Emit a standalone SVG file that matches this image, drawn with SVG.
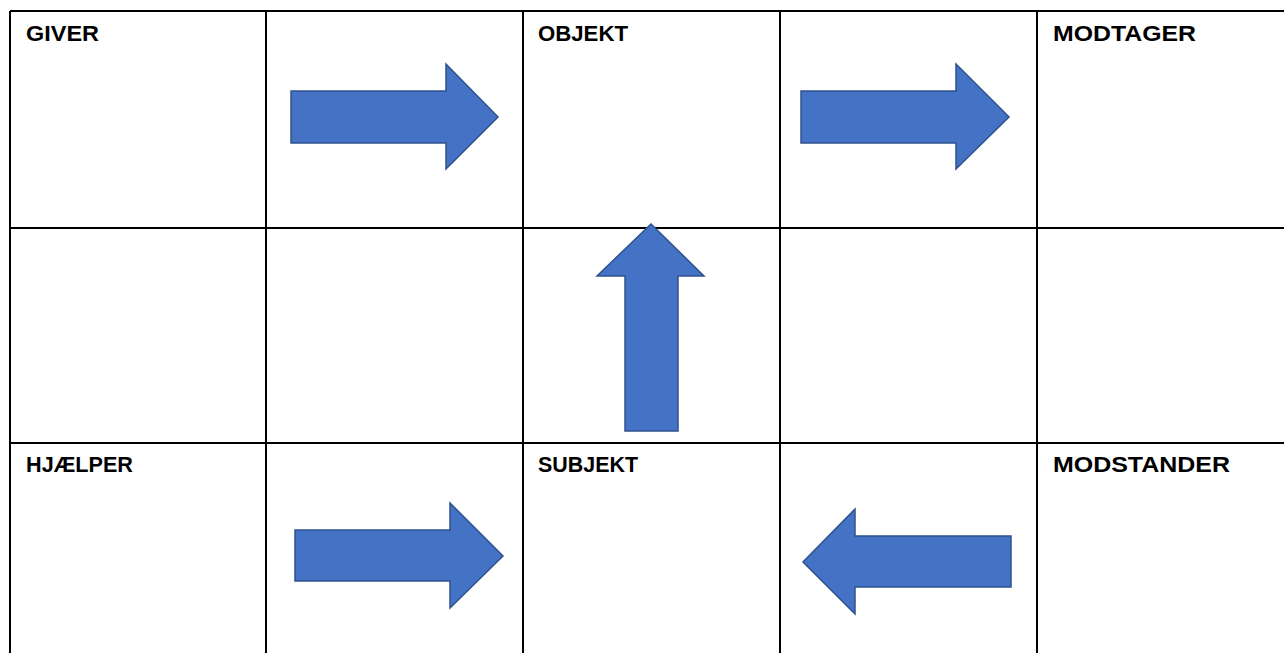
<svg xmlns="http://www.w3.org/2000/svg" width="1284" height="653" viewBox="0 0 1284 653">
<style>
.grid{stroke:#000;stroke-width:2;fill:none}
.lbl{font-family:"Liberation Sans",Arial,sans-serif;font-weight:bold;font-size:22px;fill:#000}
.arr{fill:#4472C4;stroke:#2F528F;stroke-width:1.5;stroke-linejoin:miter}
</style>
<rect width="1284" height="653" fill="#fff"/>
<g id="table" class="grid">
<line x1="10" y1="11" x2="1284" y2="11"/>
<line x1="10" y1="228" x2="1284" y2="228"/>
<line x1="10" y1="443" x2="1284" y2="443"/>
<line x1="10" y1="11" x2="10" y2="653"/>
<line x1="266" y1="11" x2="266" y2="653"/>
<line x1="523" y1="11" x2="523" y2="653"/>
<line x1="780" y1="11" x2="780" y2="653"/>
<line x1="1037" y1="11" x2="1037" y2="653"/>
</g>
<g id="giver"><text class="lbl" x="26" y="41" textLength="73" lengthAdjust="spacingAndGlyphs">GIVER</text></g>
<g id="objekt"><text class="lbl" x="538" y="41" textLength="90" lengthAdjust="spacingAndGlyphs">OBJEKT</text></g>
<g id="modtager"><text class="lbl" x="1053" y="41" textLength="143" lengthAdjust="spacingAndGlyphs">MODTAGER</text></g>
<g id="hjaelper"><text class="lbl" x="26" y="472" textLength="107" lengthAdjust="spacingAndGlyphs">HJÆLPER</text></g>
<g id="subjekt"><text class="lbl" x="538" y="472" textLength="100" lengthAdjust="spacingAndGlyphs">SUBJEKT</text></g>
<g id="modstander"><text class="lbl" x="1053" y="472" textLength="177" lengthAdjust="spacingAndGlyphs">MODSTANDER</text></g>
<g id="connectors">
<polygon class="arr" points="291,91 446,91 446,64 498,117 446,169 446,143 291,143"/>
<polygon class="arr" points="801,91 956,91 956,64 1009,117 956,169 956,143 801,143"/>
<polygon class="arr" points="625,431 625,276 597,276 651,224 704,276 678,276 678,431"/>
<polygon class="arr" points="295,530 450,530 450,503 503,556 450,608 450,581 295,581"/>
<polygon class="arr" points="1011,536 855,536 855,509 803,562 855,614 855,587 1011,587"/>
</g>
</svg>
